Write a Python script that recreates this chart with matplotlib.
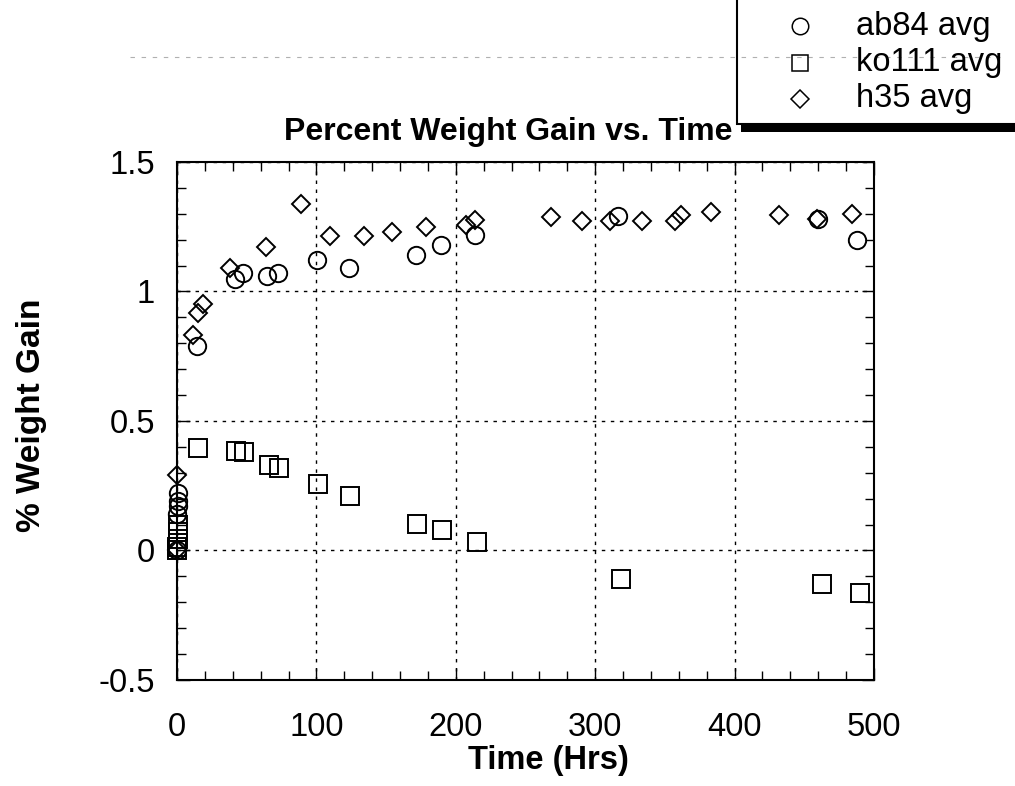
import matplotlib
matplotlib.use("Agg")
import matplotlib.pyplot as plt
import matplotlib.patches as patches
from matplotlib.lines import Line2D
from matplotlib.ticker import MultipleLocator, FuncFormatter

plt.rcParams['font.family'] = ['Liberation Sans', 'DejaVu Sans']
plt.rcParams['axes.unicode_minus'] = False

# averaged weight gain readings, time in hours
ab84_t = [0, 0.2, 0.4, 0.6, 0.8, 14.6, 41.6, 47.6, 64.8, 72.7, 100.2, 123.2,
          171.4, 189.2, 213.8, 316.6, 460, 487.6]
ab84_w = [0, 0.14, 0.17, 0.19, 0.22, 0.79, 1.05, 1.07, 1.06, 1.07, 1.12, 1.09,
          1.14, 1.18, 1.22, 1.29, 1.28, 1.20]

ko111_t = [0, 0.2, 0.4, 0.6, 0.8, 14.8, 42.3, 48.3, 66.2, 73.4, 100.9, 124.1,
           172.4, 189.9, 215.4, 318.3, 462.5, 490]
ko111_w = [0, 0.013, 0.045, 0.071, 0.097, 0.395, 0.386, 0.379, 0.331, 0.318, 0.258, 0.209,
           0.103, 0.08, 0.032, -0.112, -0.131, -0.164]

h35_t = [0, 0.3, 11.2, 14.8, 18.9, 38, 63.8, 89.2, 110, 134.1, 154.5, 178.4,
         207.3, 213.8, 268, 290.8, 310.6, 333.8, 357.3, 361.3, 382.8, 432, 458.8, 484]
h35_w = [0, 0.29, 0.833, 0.918, 0.95, 1.091, 1.171, 1.336, 1.213, 1.213, 1.23, 1.248,
         1.255, 1.275, 1.289, 1.272, 1.272, 1.271, 1.272, 1.294, 1.306, 1.297, 1.278, 1.301]

series = [
    ('ab84 avg', ab84_t, ab84_w, 'o', 12.5),
    ('ko111 avg', ko111_t, ko111_w, 's', 12.5),
    ('h35 avg', h35_t, h35_w, 'D', 9.5),
]

fig = plt.figure(figsize=(10.15, 7.86), dpi=100)
ax = fig.add_axes([0.1744, 0.1349, 0.6867, 0.6590])

for name, t, w, mk, ms in series:
    ax.plot(t, w, linestyle='none', marker=mk, markersize=ms,
            markerfacecolor='none', markeredgecolor='black', markeredgewidth=1.4,
            clip_on=False, zorder=3)

ax.set_xlim(0, 500)
ax.set_ylim(-0.5, 1.5)
ax.xaxis.set_major_locator(MultipleLocator(100))
ax.xaxis.set_minor_locator(MultipleLocator(20))
ax.yaxis.set_major_locator(MultipleLocator(0.5))
ax.yaxis.set_minor_locator(MultipleLocator(0.1))
ax.yaxis.set_major_formatter(FuncFormatter(lambda v, p: '%g' % v))

ax.tick_params(which='both', direction='in', top=True, right=True, width=1.0)
ax.tick_params(which='major', length=9)
ax.tick_params(which='minor', length=6.5)
ax.tick_params(axis='x', which='major', labelsize=23.5, pad=23)
ax.tick_params(axis='y', which='major', labelsize=23.5, pad=16)
for s in ax.spines.values():
    s.set_linewidth(1.5)

ax.grid(True, which='major', color='black', linewidth=1.0, linestyle=(0, (2.5, 4)))

fig.text(0.5005, 0.822, 'Percent Weight Gain vs. Time', ha='center', va='baseline',
         fontsize=23, fontweight='bold')
fig.text(0.54, 0.021, 'Time (Hrs)', ha='center', va='baseline',
         fontsize=23.5, fontweight='bold')
fig.text(0.031, 0.4720, '% Weight Gain', ha='center', va='center', rotation=90,
         fontsize=24, fontweight='bold')

# legend box running off the top right corner, heavy shadow under it
fig.patches.append(patches.Rectangle((0.730, 1 - 132 / 786), 0.4, 9 / 786,
                                     transform=fig.transFigure, facecolor='black',
                                     edgecolor='none', zorder=1))
fig.patches.append(patches.Rectangle((0.726, 1 - 124 / 786), 0.4, 0.3,
                                     transform=fig.transFigure, facecolor='white',
                                     edgecolor='black', linewidth=1.5, zorder=2))

# faint dashed scan line across the top
fig.lines.append(Line2D([130 / 1015, 1000 / 1015], [1 - 57 / 786, 1 - 57 / 786],
                        transform=fig.transFigure, color='#b0b0b0', linewidth=0.8,
                        linestyle=(0, (4, 6)), zorder=3))

leg_rows = [26, 63, 99]
for (name, t, w, mk, ms), yp in zip(series, leg_rows):
    fy = 1 - yp / 786
    fig.lines.append(Line2D([800 / 1015], [fy], transform=fig.transFigure,
                            linestyle='none', marker=mk, markersize=ms * 0.95,
                            markerfacecolor='none', markeredgecolor='black',
                            markeredgewidth=1.1, zorder=4))
    fig.text(856 / 1015, fy, name, ha='left', va='center', fontsize=23.5, zorder=4)

fig.savefig('out.png', dpi=100)
